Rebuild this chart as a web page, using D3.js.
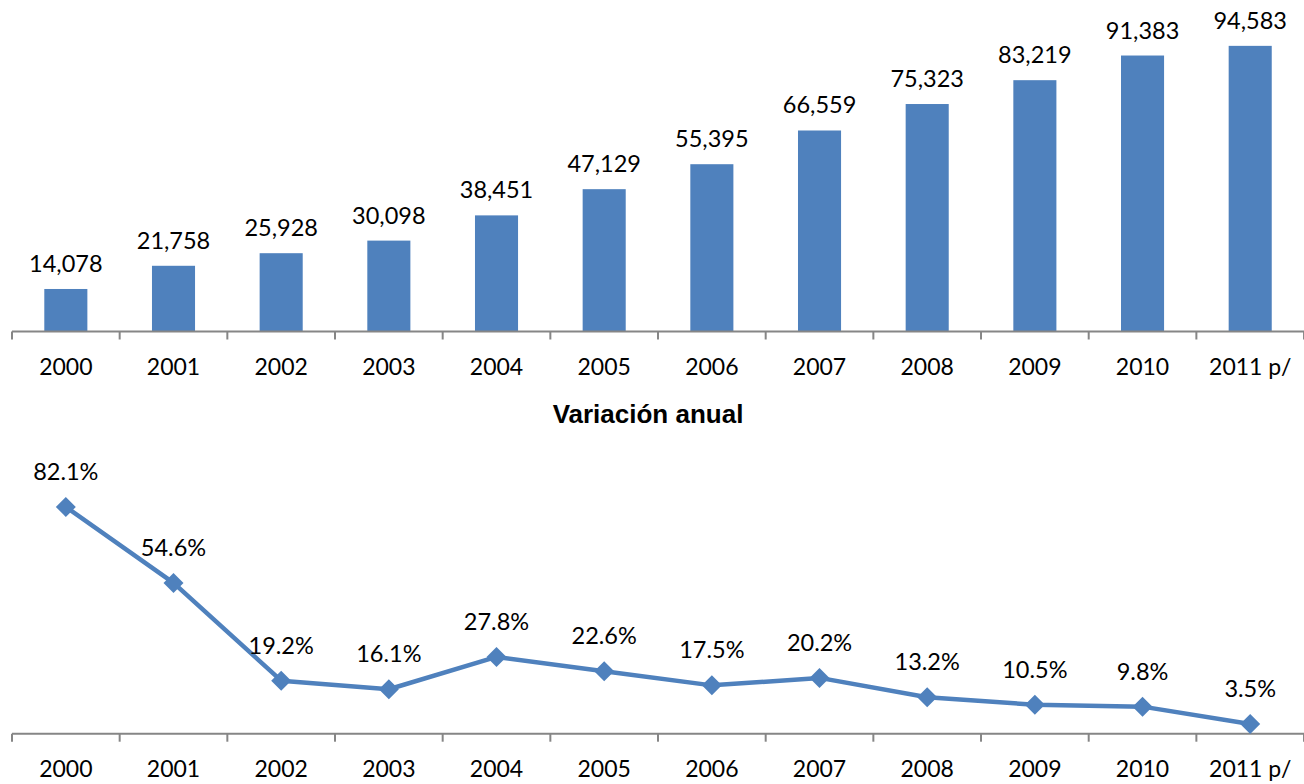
<!DOCTYPE html>
<html lang="es">
  <head>
    <meta charset="utf-8">
    <script src="https://d3js.org/d3.v7.min.js"></script>
    <title>Variación anual</title>
    <style>
      body { margin: 0; background: #fff; }
      text { font-family: Lato, "Noto Sans", sans-serif; fill: #000; }
    </style>
  </head>
  <body>
    <div id="chart"></div>
    <script>
      var years = ["2000", "2001", "2002", "2003", "2004", "2005", "2006", "2007", "2008", "2009", "2010", "2011 p/"];
      var totals = [14078, 21758, 25928, 30098, 38451, 47129, 55395, 66559, 75323, 83219, 91383, 94583];
      var variation = [82.1, 54.6, 19.2, 16.1, 27.8, 22.6, 17.5, 20.2, 13.2, 10.5, 9.8, 3.5];
      var title = "Variación anual";

      var W = 1304, H = 784;
      var blue = "#4F81BD", axisGrey = "#868686";

      var svg = d3.select("#chart").append("svg")
          .attr("width", W).attr("height", H);

      var x = d3.scaleBand().domain(years).range([12, 12 + 107.67 * 12])
          .paddingInner(0.6).paddingOuter(0.3);

      // top chart: totals
      var y1 = d3.scaleLinear().domain([0, 100000]).range([331.5, 29.5]);

      // bottom chart: annual variation
      var y2 = d3.scaleLinear().domain([0, 100]).range([733.7, 457.5]);

      function drawAxis(yPos) {
        var g = svg.append("g").attr("transform", "translate(0," + yPos + ")");
        var ax = d3.axisBottom(x).tickSize(0).tickPadding(27);
        g.call(ax);
        g.select(".domain").attr("stroke", axisGrey).attr("stroke-width", 2)
          .attr("d", "M" + x.range()[0] + ",0H" + x.range()[1]);
        g.selectAll(".tick text")
          .style("font-family", "Lato, 'Noto Sans', sans-serif")
          .style("font-size", "23px")
          .attr("dy", "0.72em");
        // boundary ticks between categories
        var bounds = d3.range(years.length + 1).map(function (i) { return x.range()[0] + i * x.step(); });
        g.selectAll("line.bound").data(bounds).enter().append("line")
          .attr("class", "bound")
          .attr("x1", function (d) { return d; }).attr("x2", function (d) { return d; })
          .attr("y1", 0).attr("y2", 8)
          .attr("stroke", axisGrey).attr("stroke-width", 2);
      }

      // bars
      svg.selectAll("rect.bar").data(totals).enter().append("rect")
        .attr("class", "bar")
        .attr("x", function (d, i) { return x(years[i]); })
        .attr("width", x.bandwidth())
        .attr("y", function (d) { return y1(d); })
        .attr("height", function (d) { return y1(0) - y1(d); })
        .attr("fill", blue);

      svg.selectAll("text.barlab").data(totals).enter().append("text")
        .attr("class", "barlab")
        .attr("x", function (d, i) { return x(years[i]) + x.bandwidth() / 2; })
        .attr("y", function (d) { return y1(d) - 17; })
        .attr("text-anchor", "middle")
        .style("font-size", "23.5px")
        .text(function (d) { return d3.format(",")(d); });

      drawAxis(y1(0));

      // title
      svg.append("text")
        .attr("x", 648).attr("y", 423)
        .attr("text-anchor", "middle")
        .style("font-family", "'Liberation Sans', Arial, sans-serif")
        .style("font-weight", "bold")
        .style("font-size", "26px")
        .text(title);

      drawAxis(y2(0));

      var cx = function (i) { return x(years[i]) + x.bandwidth() / 2; };

      var line = d3.line()
        .x(function (d, i) { return cx(i); })
        .y(function (d) { return y2(d); });

      svg.append("path").datum(variation)
        .attr("d", line)
        .attr("fill", "none")
        .attr("stroke", blue)
        .attr("stroke-width", 4.5)
        .attr("stroke-linejoin", "round");

      svg.selectAll("path.mark").data(variation).enter().append("path")
        .attr("class", "mark")
        .attr("d", d3.symbol().type(d3.symbolSquare).size(200))
        .attr("transform", function (d, i) { return "translate(" + cx(i) + "," + y2(d) + ") rotate(45)"; })
        .attr("fill", blue);

      svg.selectAll("text.linelab").data(variation).enter().append("text")
        .attr("class", "linelab")
        .attr("x", function (d, i) { return cx(i); })
        .attr("y", function (d) { return y2(d) - 27; })
        .attr("text-anchor", "middle")
        .style("font-size", "23.5px")
        .text(function (d) { return d.toFixed(1) + "%"; });
    </script>
  </body>
</html>
